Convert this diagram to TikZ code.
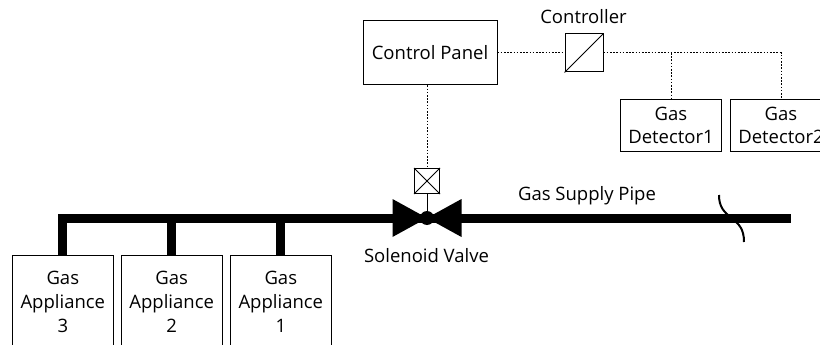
\documentclass[tikz,border=0pt]{standalone}
\usepackage{fontspec}
\setmainfont{Open Sans}
\begin{document}
\begin{tikzpicture}[x=1pt,y=-1pt,
  box/.style={draw,line width=1pt,align=center,inner sep=0pt,font=\fontsize{18.5}{22}\selectfont},
  lbl/.style={inner sep=0pt,font=\fontsize{18.5}{22}\selectfont},
  sig/.style={line width=1pt,dash pattern=on 1.6pt off 1.6pt},
  pipe/.style={line width=9pt,line join=miter,line cap=butt}]
\useasboundingbox (0,0) rectangle (820,345);
% boxes
\node[box,minimum width=134pt,minimum height=64pt] (cp) at (430,53) {Control Panel};
\node[draw,line width=1pt,minimum size=38pt,inner sep=0pt] (ctrl) at (584,53) {};
\draw[line width=1pt] (ctrl.south west) -- (ctrl.north east);
\node[lbl] (ctrllbl) at (583.5,17) {Controller};
\node[box,minimum width=101pt,minimum height=51pt,font=\fontsize{18.5}{22.5}\selectfont] (det1) at (671,125.5) {Gas\\Detector1};
\node[box,minimum width=101pt,minimum height=51pt,font=\fontsize{18.5}{22.5}\selectfont] (det2) at (781,125.5) {Gas\\Detector2};
% appliances
\node[box,minimum width=101pt,minimum height=92pt,anchor=north,font=\fontsize{18.5}{24}\selectfont] (a3) at (62.8,255) {Gas\\Appliance\\3};
\node[box,minimum width=101pt,minimum height=92pt,anchor=north,font=\fontsize{18.5}{24}\selectfont] (a2) at (171.7,255) {Gas\\Appliance\\2};
\node[box,minimum width=101pt,minimum height=92pt,anchor=north,font=\fontsize{18.5}{24}\selectfont] (a1) at (280.8,255) {Gas\\Appliance\\1};
% valve
\coordinate (v) at (427,218);
\node[draw,line width=1pt,minimum size=25pt,inner sep=0pt] (sol) at (427,181) {};
\draw[line width=1pt] (sol.south west) -- (sol.north east) (sol.north west) -- (sol.south east);
\coordinate (pend) at (791,218);
% break mark
\draw[line width=2pt] (719,195) .. controls (719,207) and (724,212) .. (731.5,218) .. controls (739,224) and (744,229) .. (744,242);
% pipe
\draw[pipe] (a3.north) -- (a3.north |- v) -- (pend);
\draw[pipe] (a2.north) -- (a2.north |- v);
\draw[pipe] (a1.north) -- (a1.north |- v);
\fill (v) -- (392.5,199) -- (392.5,237) -- cycle;
\fill (v) -- (461.5,199) -- (461.5,237) -- cycle;
\fill (v) circle (7pt);
\draw[line width=1pt] (v) -- (sol.south);
\node[lbl] (svlbl) at (426.5,256) {Solenoid Valve};
\node[lbl] (gsp) at (587,196) {Gas Supply Pipe};
% signal lines
\draw[sig] (cp.east) -- (ctrl.west);
\draw[sig] (cp.south -| sol.north) -- (sol.north);
\coordinate (j1) at (det1.north |- ctrl.east);
\draw[sig] (ctrl.east) -| (det2.north);
\draw[sig] (j1) -- (det1.north);
\end{tikzpicture}
\end{document}
